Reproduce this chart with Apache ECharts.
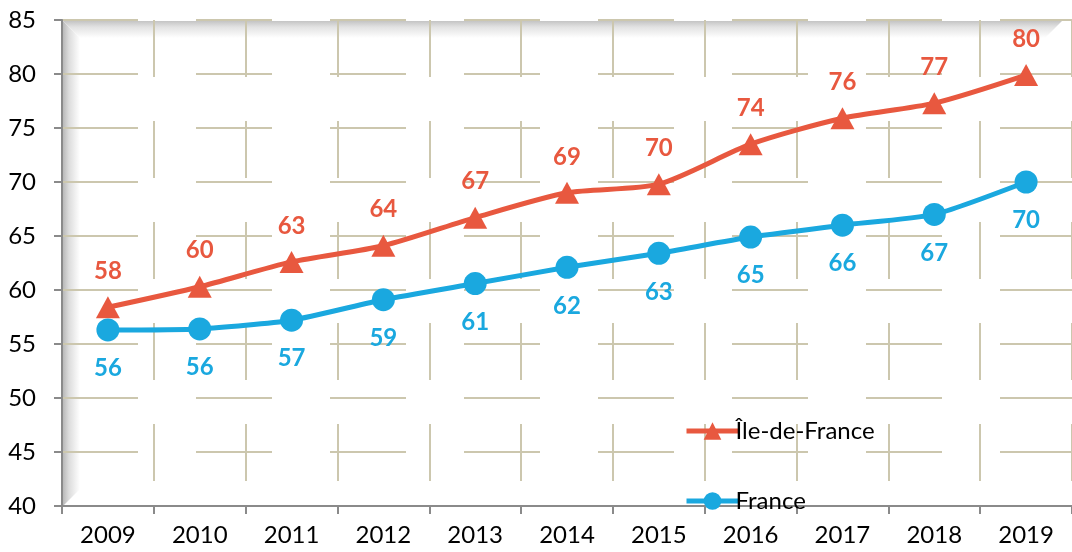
<!DOCTYPE html>
<html>
<head>
<meta charset="utf-8">
<script src="https://cdn.jsdelivr.net/npm/echarts@6/dist/echarts.min.js"></script>
<style>html,body{margin:0;padding:0;background:#fff;}#c{width:1072px;height:552px;}</style>
</head>
<body>
<div id="c"></div>
<script>
const years = ['2009','2010','2011','2012','2013','2014','2015','2016','2017','2018','2019'];
const idfValues = [58.4, 60.3, 62.6, 64.1, 66.7, 69.0, 69.8, 73.5, 75.9, 77.3, 79.9];
const franceValues = [56.3, 56.4, 57.2, 59.1, 60.6, 62.1, 63.4, 64.9, 66.0, 67.0, 70.0];
const yTicks = [40, 45, 50, 55, 60, 65, 70, 75, 80, 85];

const FONT = 'Lato, "Open Sans", sans-serif';
const RED = '#E8583F';
const BLUE = '#1AA8DF';
const GRIDC = '#CCC7AE';

const chart = echarts.init(document.getElementById('c'));
chart.setOption({
  animation: false,
  backgroundColor: '#fff',
  grid: { left: 62, top: 20, width: 1018, height: 486, containLabel: false },
  graphic: [
    {
      type: 'polygon', z: -10, silent: true,
      shape: { points: [[63, 21], [80, 38], [80, 489], [63, 506]] },
      style: { fill: new echarts.graphic.LinearGradient(0, 0, 1, 0, [
        { offset: 0, color: '#b9b9b9' }, { offset: 0.35, color: '#dcdcdc' }, { offset: 1, color: '#ffffff' }]) }
    },
    {
      type: 'polygon', z: -10, silent: true,
      shape: { points: [[63, 21], [1062, 21], [1045, 38], [80, 38]] },
      style: { fill: new echarts.graphic.LinearGradient(0, 0, 0, 1, [
        { offset: 0, color: '#c4c4c4' }, { offset: 0.35, color: '#e2e2e2' }, { offset: 1, color: '#ffffff' }]) }
    }
  ],
  legend: {
    orient: 'vertical',
    left: 679, top: 414,
    itemWidth: 52, itemHeight: 22, itemGap: 46,
    lineStyle: { width: 5 },
    itemStyle: {},
    textStyle: { fontFamily: FONT, fontSize: 24, color: '#000', padding: [0, 0, 0, -8] },
    data: ['Île-de-France', 'France']
  },
  xAxis: {
    type: 'category',
    data: years,
    boundaryGap: true,
    axisLine: { lineStyle: { color: '#8a8a8a', width: 2 } },
    axisTick: { show: true, length: 8, lineStyle: { color: '#8a8a8a', width: 2 } },
    axisLabel: { fontFamily: FONT, fontSize: 24, color: '#000', margin: 17 },
    splitLine: { show: true, lineStyle: { color: GRIDC, width: 2, type: [57, 44] } }
  },
  yAxis: {
    type: 'value',
    min: 40, max: 85, interval: 5,
    axisLine: { show: true, lineStyle: { color: '#8a8a8a', width: 2 } },
    axisTick: { show: true, length: 8, lineStyle: { color: '#8a8a8a', width: 2 } },
    axisLabel: { fontFamily: FONT, fontSize: 24, color: '#000', margin: 26,
      formatter: v => yTicks.includes(v) ? String(v) : '' },
    splitLine: { show: true, lineStyle: { color: GRIDC, width: 2, type: [76, 58] } }
  },
  series: [
    {
      name: 'Île-de-France', type: 'line', data: idfValues,
      smooth: 0.25,
      symbol: 'triangle', symbolSize: [24, 22],
      lineStyle: { color: RED, width: 5 },
      itemStyle: { color: RED },
      label: { show: true, position: 'top', distance: 13, fontFamily: FONT, fontSize: 24,
        fontWeight: 'bold', color: RED, formatter: p => Math.round(p.value) }
    },
    {
      name: 'France', type: 'line', data: franceValues,
      smooth: 0.2,
      symbol: 'circle', symbolSize: 23,
      lineStyle: { color: BLUE, width: 5 },
      itemStyle: { color: BLUE },
      label: { show: true, position: 'bottom', distance: 15, fontFamily: FONT, fontSize: 24,
        fontWeight: 'bold', color: BLUE, formatter: p => Math.round(p.value) }
    }
  ]
});
</script>
</body>
</html>
